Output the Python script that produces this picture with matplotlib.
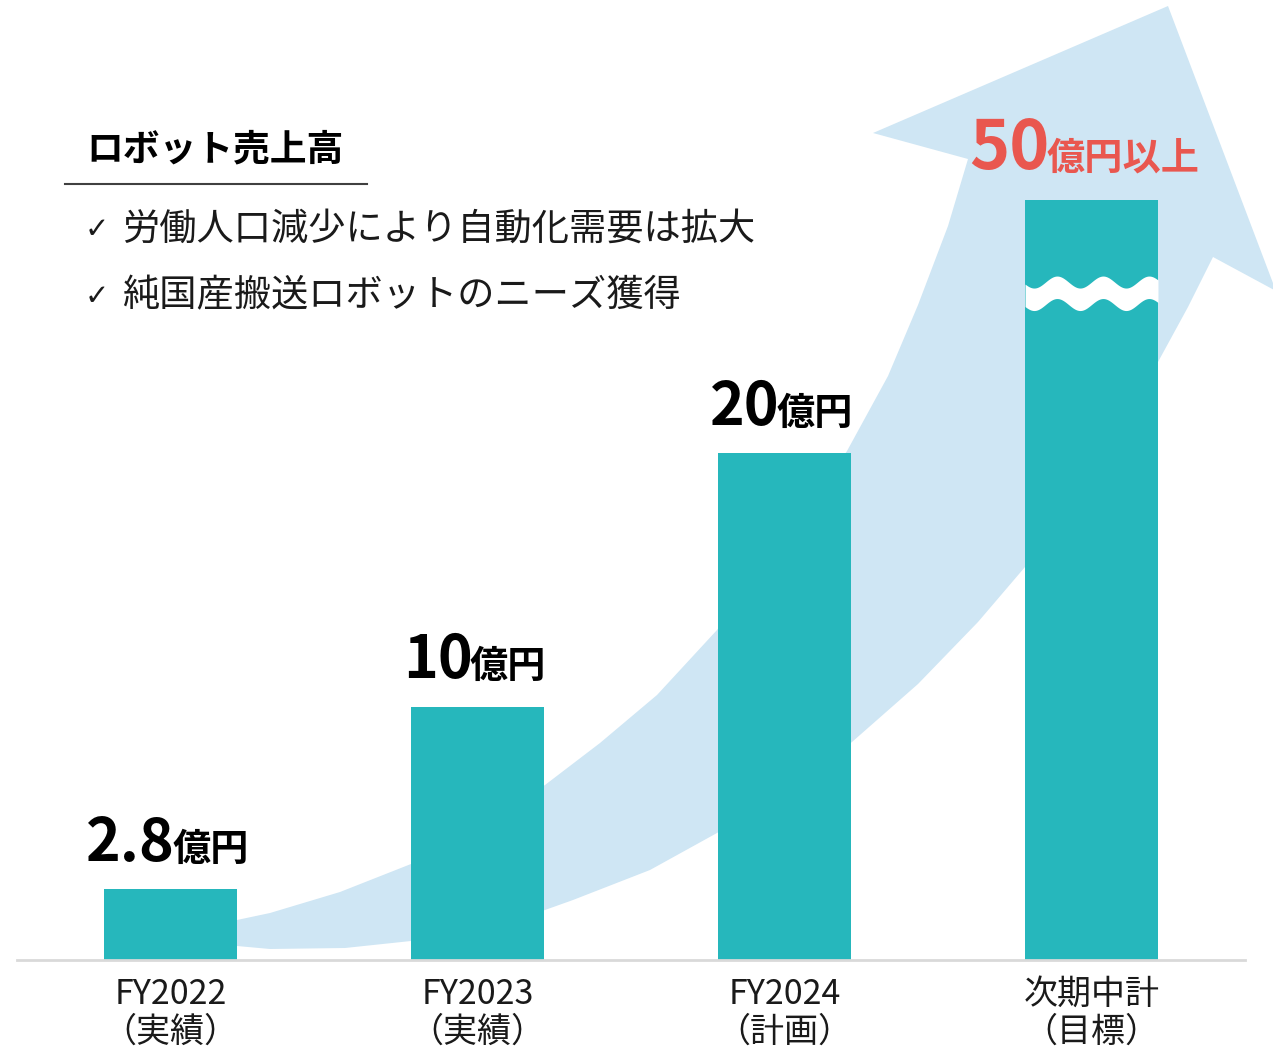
import numpy as np
import matplotlib
matplotlib.use("Agg")
import matplotlib.pyplot as plt
from matplotlib.patches import Polygon
from matplotlib.lines import Line2D
from matplotlib.offsetbox import TextArea, HPacker, AnnotationBbox

# ---------------- data ----------------
categories = ["FY2022\n（実績）", "FY2023\n（実績）", "FY2024\n（計画）", "次期中計\n（目標）"]
values = [2.8, 10, 20, 50]
value_text = ["2.8", "10", "20", "50"]
unit_text = ["億円", "億円", "億円", "億円以上"]
title = "ロボット売上高"
bullets = ["労働人口減少により自動化需要は拡大", "純国産搬送ロボットのニーズ獲得"]

DISPLAY_CAP = 30      # bars above this value are drawn with a break
BREAK_AT = 26.3       # where the wavy break sits on a capped bar

plt.rcParams['font.family'] = ['Noto Sans CJK JP', 'DejaVu Sans']

W, H = 1273, 1047
fig = plt.figure(figsize=(W / 100, H / 100), dpi=100)


def fx(px):
    return px / W


def fy(py):
    return 1 - py / H


TEAL = '#26b7bc'
RED = '#e9574f'
ARROW = '#cfe6f4'

# ---------------- background arrow (decoration) ----------------
arrow_px = [
    (225, 925), (237, 920), (270, 913), (340, 892), (411, 864), (480, 826), (545, 785),
    (600, 743), (657, 695), (717, 630), (782, 546), (847, 451), (888, 376), (918, 305),
    (948, 226), (968, 159),
    (873, 133), (1168, 6), (1276, 291), (1213, 257),
    (1188, 307), (1158, 362), (1090, 467), (1025, 567), (978, 622), (918, 684),
    (852, 742), (785, 790), (717, 833), (650, 870), (573, 900), (545, 910), (480, 928),
    (411, 941), (345, 948), (270, 949), (237, 946), (225, 944),
]
fig.patches.append(Polygon([(fx(x), fy(y)) for x, y in arrow_px], closed=True,
                           transform=fig.transFigure, facecolor=ARROW,
                           edgecolor='none', zorder=-1))

# ---------------- axes ----------------
ax = fig.add_axes([fx(17), 87 / H, (1245 - 17) / W, 960 / H])
ax.patch.set_visible(False)
ax.set_xlim(-0.5, 3.5)
ax.set_ylim(0, 960 / 25.35)

x = np.arange(len(values))
disp = np.minimum(values, DISPLAY_CAP)
bw = 0.433
ax.bar(x, disp, width=bw, color=TEAL, zorder=2)

# wavy break on capped bars
px_per_x = (1245 - 17) / 4.0
px_per_y = 25.35
for i, v in enumerate(values):
    if v > DISPLAY_CAP:
        xs = np.linspace(x[i] - bw / 2, x[i] + bw / 2, 300)
        period = 46 / px_per_x
        xc = x[i] - bw / 2 + 32 / px_per_x
        amp = 6 / px_per_y
        half = 11.25 / px_per_y
        wave = amp * np.cos(2 * np.pi * (xs - xc) / period)
        ax.fill_between(xs, BREAK_AT - half + wave, BREAK_AT + half + wave,
                        color='white', lw=0, zorder=3)

# value labels
for i in range(len(values)):
    big = values[i] > DISPLAY_CAP
    col = RED if big else 'black'
    num = TextArea(value_text[i], textprops=dict(fontsize=49 if big else 42.5,
                                                 fontweight='bold', color=col))
    unit = TextArea(unit_text[i], textprops=dict(fontsize=27.5 if big else 27.5,
                                                 fontweight='bold', color=col))
    box = HPacker(children=[num, unit], align='baseline', pad=0, sep=-2)
    ab = AnnotationBbox(box, (x[i], disp[i]), xybox=(-5 if big else -2, 11), xycoords='data',
                        boxcoords='offset points', box_alignment=(0.5, 0),
                        frameon=False, pad=0, zorder=4)
    ax.add_artist(ab)

# axis styling
for s in ['top', 'right', 'left']:
    ax.spines[s].set_visible(False)
ax.spines['bottom'].set_color('#d9d9d9')
ax.spines['bottom'].set_linewidth(2)
ax.set_yticks([])
ax.set_xticks(x)
ax.set_xticklabels(categories, fontsize=24.5, linespacing=1.1, color='#1a1a1a')
ax.tick_params(axis='x', length=0, pad=12)

# ---------------- header texts ----------------
fig.text(fx(86), fy(150), title, fontsize=26.5, fontweight='bold', va='center', ha='left')
fig.add_artist(Line2D([fx(65), fx(367)], [fy(184), fy(184)], color='#404040', lw=1.5,
                      transform=fig.transFigure))
for k, (t, yy) in enumerate(zip(bullets, [229, 296])):
    fig.text(fx(85), fy(yy + 1), "✓", family='DejaVu Sans', fontsize=21, va='center',
             ha='left', color='#1a1a1a')
    fig.text(fx(122), fy(yy), t, fontsize=26.8, va='center', ha='left', color='#1a1a1a')

fig.savefig("out.png", dpi=100)
